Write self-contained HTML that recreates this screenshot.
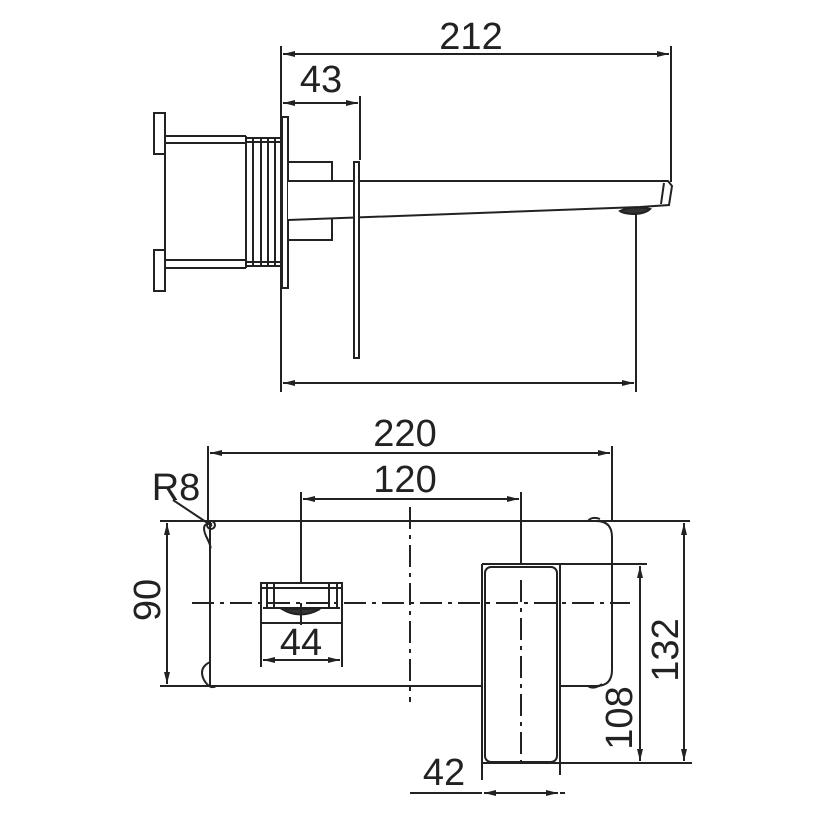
<!DOCTYPE html>
<html><head><meta charset="utf-8"><style>
html,body{margin:0;padding:0;background:#fff;}
svg{display:block;}
text{font-family:"Liberation Sans",sans-serif;fill:#222;}
</style></head><body>
<svg width="820" height="820" viewBox="0 0 820 820" xmlns="http://www.w3.org/2000/svg">
<defs>
<marker id="a" viewBox="0 0 12 6" refX="12" refY="3" markerWidth="12" markerHeight="6" orient="auto-start-reverse" markerUnits="userSpaceOnUse"><path d="M0,0 L12,3 L0,6 z" fill="#222"/></marker>
</defs>
<g stroke="#222" stroke-width="2" fill="none">
<line x1="281" y1="46" x2="281" y2="392"/>
<line x1="671" y1="46" x2="671" y2="182"/>
<line x1="283" y1="54" x2="669" y2="54" marker-start="url(#a)" marker-end="url(#a)"/>
<line x1="360" y1="96" x2="360" y2="160"/>
<line x1="283" y1="103" x2="358" y2="103" marker-start="url(#a)" marker-end="url(#a)"/>
<line x1="636" y1="210" x2="636" y2="392"/>
<line x1="283" y1="383" x2="634" y2="383" marker-start="url(#a)" marker-end="url(#a)"/>
<rect x="154" y="113" width="11" height="41"/>
<rect x="154" y="250" width="11" height="41"/>
<line x1="165" y1="154" x2="165" y2="250"/>
<line x1="165" y1="136" x2="246" y2="136"/>
<line x1="165" y1="143" x2="246" y2="143"/>
<line x1="165" y1="260" x2="246" y2="260"/>
<line x1="165" y1="268" x2="246" y2="268"/>
<line x1="246" y1="136" x2="246" y2="268"/>
<rect x="246" y="138" width="36" height="128"/>
<line x1="253" y1="138" x2="253" y2="266"/>
<line x1="261" y1="138" x2="261" y2="266"/>
<line x1="268" y1="138" x2="268" y2="266"/>
<line x1="275" y1="138" x2="275" y2="266"/>
<line x1="246" y1="142" x2="282" y2="142"/>
<line x1="246" y1="262" x2="282" y2="262"/>
<rect x="282" y="117" width="6" height="171"/>
<rect x="288" y="162" width="44" height="78"/>
<path d="M288,181 L668,181 L672,186 L669,205 L640,207 L288,220" fill="#fff"/>
<line x1="664" y1="183" x2="661" y2="204"/>
<path d="M620,211 Q633,205 650,209 Q645,214 632,214 Q622,213 620,211 Z" fill="#333"/>
<rect x="354" y="162" width="5" height="196" fill="#fff"/>

<line x1="208" y1="446" x2="208" y2="521"/>
<line x1="612" y1="446" x2="612" y2="521"/>
<line x1="210" y1="453" x2="610" y2="453" marker-start="url(#a)" marker-end="url(#a)"/>
<line x1="301" y1="492" x2="301" y2="603"/>
<line x1="521" y1="492" x2="521" y2="564"/>
<line x1="303" y1="499" x2="519" y2="499" marker-start="url(#a)" marker-end="url(#a)"/>
<line x1="173" y1="500" x2="212" y2="526"/>
<line x1="160" y1="521" x2="690" y2="521"/>
<line x1="160" y1="686" x2="483" y2="686"/>
<line x1="560" y1="686" x2="600" y2="686"/>
<line x1="210" y1="521" x2="210" y2="686"/>
<path d="M596,521 Q612,521 612,537 L612,670 Q612,686 596,686"/>
<path d="M212,524 Q200,522 206,536 Q212,548 210,548"/>
<circle cx="211" cy="525" r="4"/>
<path d="M210,662 Q198,668 204,680 Q210,690 216,686"/>
<path d="M588,521 Q592,516 600,519"/>
<path d="M588,686 Q594,690 602,684"/>
<line x1="167" y1="523" x2="167" y2="684" marker-start="url(#a)" marker-end="url(#a)"/>
<line x1="482" y1="564" x2="647" y2="564"/>
<line x1="482" y1="564" x2="482" y2="780"/>
<line x1="560" y1="564" x2="560" y2="775"/>
<rect x="485" y="567" width="72" height="195" rx="6" fill="#fff"/>
<line x1="482" y1="763" x2="692" y2="763"/>
<line x1="640" y1="566" x2="640" y2="761" marker-start="url(#a)" marker-end="url(#a)"/>
<line x1="684" y1="523" x2="684" y2="761" marker-start="url(#a)" marker-end="url(#a)"/>
<line x1="410" y1="793" x2="482" y2="793"/>
<line x1="484" y1="793" x2="558" y2="793" marker-start="url(#a)" marker-end="url(#a)"/>
<line x1="560" y1="793" x2="565" y2="793"/>
<rect x="261" y="583" width="81" height="40" fill="#fff"/>
<line x1="267" y1="583" x2="267" y2="607"/>
<line x1="274" y1="583" x2="274" y2="607"/>
<line x1="329" y1="583" x2="329" y2="607"/>
<line x1="337" y1="583" x2="337" y2="607"/>
<line x1="261" y1="588" x2="342" y2="588"/>
<line x1="263" y1="608" x2="340" y2="608"/>
<path d="M282,609 Q300,620 320,609 Z" fill="#333"/>
<line x1="261" y1="623" x2="261" y2="667"/>
<line x1="342" y1="623" x2="342" y2="667"/>
<line x1="263" y1="660" x2="340" y2="660" marker-start="url(#a)" marker-end="url(#a)"/>
<line x1="301" y1="603" x2="301" y2="625"/>
</g>
<g stroke="#222" stroke-width="2" fill="none">
<line x1="192" y1="603" x2="630" y2="603" stroke-dasharray="22,6,4,6"/>
<line x1="410" y1="507" x2="410" y2="702" stroke-dasharray="22,6,4,6"/>
<line x1="521" y1="580" x2="521" y2="770" stroke-dasharray="22,6,4,6"/>
</g>
<g font-size="38">
<text x="471" y="49" text-anchor="middle">212</text>
<text x="321" y="92" text-anchor="middle">43</text>
<text x="405" y="446" text-anchor="middle">220</text>
<text x="405" y="492" text-anchor="middle">120</text>
<text x="176" y="500" text-anchor="middle">R8</text>
<text x="301" y="655" text-anchor="middle">44</text>
<text x="444" y="785" text-anchor="middle">42</text>
<text transform="translate(160,600) rotate(-90)" text-anchor="middle">90</text>
<text transform="translate(632,718) rotate(-90)" text-anchor="middle">108</text>
<text transform="translate(678,650) rotate(-90)" text-anchor="middle">132</text>
</g>
</svg>
</body></html>
